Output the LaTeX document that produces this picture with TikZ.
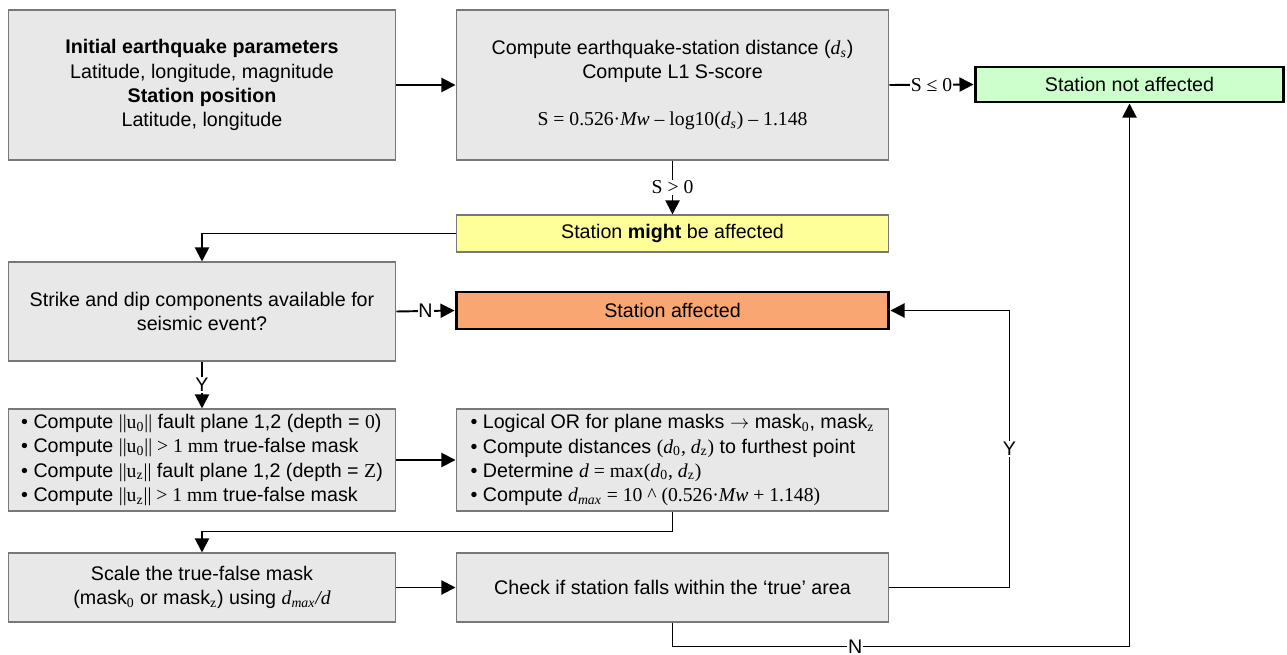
\documentclass[tikz,border=0pt]{standalone}
\usepackage{fontspec}
\setmainfont{Liberation Sans}
\newfontfamily\tnr{Liberation Serif}
\usetikzlibrary{arrows.meta}
\definecolor{boxgray}{RGB}{232,232,232}
\definecolor{boxline}{RGB}{120,120,120}
\definecolor{okgreen}{RGB}{204,255,204}
\definecolor{maybeyellow}{RGB}{255,255,153}
\definecolor{hitorange}{RGB}{250,166,115}
\tikzset{
  box/.style={draw=boxline, fill=boxgray, line width=0.6pt, align=center, inner sep=2pt,
    font=\fontsize{11.2}{13.7}\selectfont},
  widebox/.style={box, minimum width=8.66cm},
  narrowbox/.style={box, minimum width=7.76cm},
  endbox/.style={box, draw=black, line width=1.7pt, minimum height=0.7cm},
  arr/.style={-{Triangle[length=8pt,width=8pt]}, line width=1.1pt},
  lbl/.style={fill=white, inner sep=0.5pt, font=\fontsize{11.2}{13}\selectfont}
}
\begin{document}
\begin{tikzpicture}[x=0.02cm,y=-0.02cm]
\useasboundingbox (0,0) rectangle (1287,655);
\node[narrowbox, minimum height=3cm] (init) at (202,85) {\textbf{Initial earthquake parameters}\\Latitude, longitude, magnitude\\\textbf{Station position}\\Latitude, longitude};
\node[widebox, minimum height=3cm] (score) at (672.5,85) {Compute earthquake-station distance ({\tnr\itshape d\textsubscript{s}})\\Compute L1 S-score\\[13pt]{\tnr S = 0.526·\textit{Mw} – log10(\textit{d}\textsubscript{\textit{s}}) – 1.148}};
\node[endbox, fill=okgreen, minimum width=6.18cm] (notaff) at (1129.5,84.5) {Station not affected};
\node[widebox, fill=maybeyellow, minimum height=0.74cm] (might) at (672.5,233.5) {Station \textbf{might} be affected};
\node[narrowbox, minimum height=1.98cm] (strike) at (202,311.5) {Strike and dip components available for\\seismic event?};
\node[endbox, fill=hitorange, minimum width=8.66cm, minimum height=0.74cm] (affected) at (672.5,310.5) {Station affected};
\node[narrowbox, minimum height=2.04cm, align=left] (planes) at (202,460) {• Compute {\tnr||u\textsubscript{0}||} fault plane 1,2 (depth = {\tnr 0})\\• Compute {\tnr||u\textsubscript{0}|| > 1 mm} true-false mask\\• Compute {\tnr||u\textsubscript{z}||} fault plane 1,2 (depth = {\tnr Z})\\• Compute {\tnr||u\textsubscript{z}|| > 1 mm} true-false mask};
\node[widebox, minimum height=2.04cm, align=left] (masks) at (672.5,460) {• Logical OR for plane masks $\rightarrow$ mask{\tnr\textsubscript{0}}, mask{\tnr\textsubscript{z}}\\• Compute distances {\tnr(\textit{d}\textsubscript{0}, \textit{d}\textsubscript{z})} to furthest point\\• Determine {\tnr\textit{d} = max(\textit{d}\textsubscript{0}, \textit{d}\textsubscript{z})}\\• Compute {\tnr\textit{d\textsubscript{max}} = 10 \^{} (0.526·\textit{Mw} + 1.148)}};
\node[narrowbox, minimum height=1.38cm] (scale) at (202,587.5) {Scale the true-false mask\\(mask{\tnr\textsubscript{0}} or mask{\tnr\textsubscript{z}}) using {\tnr\itshape d\textsubscript{max}/d}};
\node[widebox, minimum height=1.38cm] (check) at (672.5,587.5) {Check if station falls within the ‘true’ area};
\draw[arr] (init.east) -- (score.west);
\draw[arr] (score.east) -- node[lbl] {\tnr S ≤ 0} (notaff.west);
\draw[arr] (score.south) -- node[lbl] {\tnr S > 0} (might.north);
\draw[arr] (might.west) -| (strike.north);
\draw[arr] (strike.east) -- node[lbl] {N} (affected.west);
\draw[arr] (strike.south) -- node[lbl] {Y} (planes.north);
\draw[arr] (planes.east) -- (masks.west);
\draw[arr] (masks.south) -- ++(0,20) -| (scale.north);
\draw[arr] (scale.east) -- (check.west);
\draw[arr] (check.east) -- ++(120,0) |- node[lbl, pos=0.25] {Y} (affected.east);
\draw[arr] (check.south) -- ++(0,24) -| node[lbl, pos=0.2] {N} (notaff.south);
\end{tikzpicture}
\end{document}
